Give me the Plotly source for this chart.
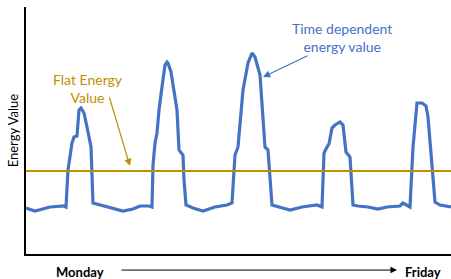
import plotly.graph_objects as go

# Time index (Monday -> Friday, arbitrary units) and energy values
time = [0, 9, 24, 38, 40, 42, 46, 48, 51, 53, 55, 58, 61, 65, 67, 71, 81, 97, 107, 114, 123, 126,
        127, 129, 131, 133, 136, 139, 141, 142, 145, 149, 151, 153, 157, 158, 160, 167, 177, 189, 201, 206,
        209, 212, 217, 222, 226, 229, 234, 239, 242, 246, 254, 264, 276, 291, 296,
        298, 301, 303, 306, 309, 314, 317, 320, 324, 327, 332, 342, 352, 361, 374, 377, 384,
        387, 391, 396, 400, 402, 406, 409, 414, 425]
energy = [46, 43, 47, 48, 47, 84, 111, 117, 118, 144, 146, 141, 127, 107, 51, 50, 47, 43, 45, 48, 48, 47,
          89, 111, 121, 144, 167, 189, 192, 191, 182, 156, 144, 104, 99, 74, 49, 46, 43, 47, 49, 51,
          99, 107, 164, 191, 201, 197, 179, 107, 104, 49, 47, 44, 47, 49, 47,
          101, 107, 110, 126, 129, 132, 129, 102, 97, 49, 48, 47, 45, 47, 48, 51, 47,
          107, 151, 151, 148, 137, 87, 52, 49, 47]

flat_value = 83
x_range = [0, 425]
y_range = [0, 247]

fig = go.Figure()
fig.add_trace(go.Scatter(x=time, y=energy, mode="lines",
                         line=dict(color="#4472C4", width=3.2), hoverinfo="skip"))
fig.add_trace(go.Scatter(x=x_range, y=[flat_value, flat_value], mode="lines",
                         line=dict(color="#BF9000", width=2), hoverinfo="skip"))

font_family = "Lato, Open Sans, sans-serif"
ann = []
# Flat energy label
ann.append(dict(x=62, y=166, xref="x", yref="y", xanchor="center", yanchor="middle",
                text="Flat Energy<br>Value", showarrow=False,
                font=dict(family=font_family, size=14, color="#BF9000")))
ann.append(dict(x=104, y=88, ax=83, ay=158, xref="x", yref="y", axref="x", ayref="y", text="",
                showarrow=True, arrowhead=2, arrowsize=1.2, arrowwidth=1.2, arrowcolor="#BF9000"))
# Time dependent label
ann.append(dict(x=316, y=217, xref="x", yref="y", xanchor="center", yanchor="middle",
                text="Time dependent<br>energy value", showarrow=False,
                font=dict(family=font_family, size=14, color="#4472C4")))
ann.append(dict(x=237, y=177, ax=283, ay=199, xref="x", yref="y", axref="x", ayref="y", text="",
                showarrow=True, arrowhead=2, arrowsize=1.2, arrowwidth=1.2, arrowcolor="#4472C4"))
# Axis titles
ann.append(dict(x=-0.031, y=0.5, xref="paper", yref="paper", xanchor="center", yanchor="middle",
                text="Energy Value", textangle=-90,
                showarrow=False, font=dict(family=font_family, size=13, color="black")))
ann.append(dict(x=0.127, y=-0.073, xref="paper", yref="paper", xanchor="center", yanchor="middle",
                text="<b>Monday</b>", showarrow=False,
                font=dict(family=font_family, size=13, color="black")))
ann.append(dict(x=0.934, y=-0.073, xref="paper", yref="paper", xanchor="center", yanchor="middle",
                text="<b>Friday</b>", showarrow=False,
                font=dict(family=font_family, size=13, color="black")))
ann.append(dict(x=0.873, y=-0.065, xref="paper", yref="paper", ax=-277, ay=0, text="",
                showarrow=True, arrowhead=2, arrowsize=1.3, arrowwidth=1, arrowcolor="black"))

fig.update_layout(
    width=451, height=279,
    margin=dict(l=26, r=0, t=7, b=25),
    paper_bgcolor="white", plot_bgcolor="white",
    showlegend=False,
    annotations=ann,
    xaxis=dict(range=x_range, showline=True, linecolor="black", linewidth=1.5,
               showticklabels=False, ticks="", showgrid=False, zeroline=False),
    yaxis=dict(range=y_range, showline=True, linecolor="black", linewidth=1.5,
               showticklabels=False, ticks="", showgrid=False, zeroline=False),
)
fig.write_html("out.html", config={"displayModeBar": False},
               post_script="document.body.style.margin='0';document.body.style.padding='0';")
